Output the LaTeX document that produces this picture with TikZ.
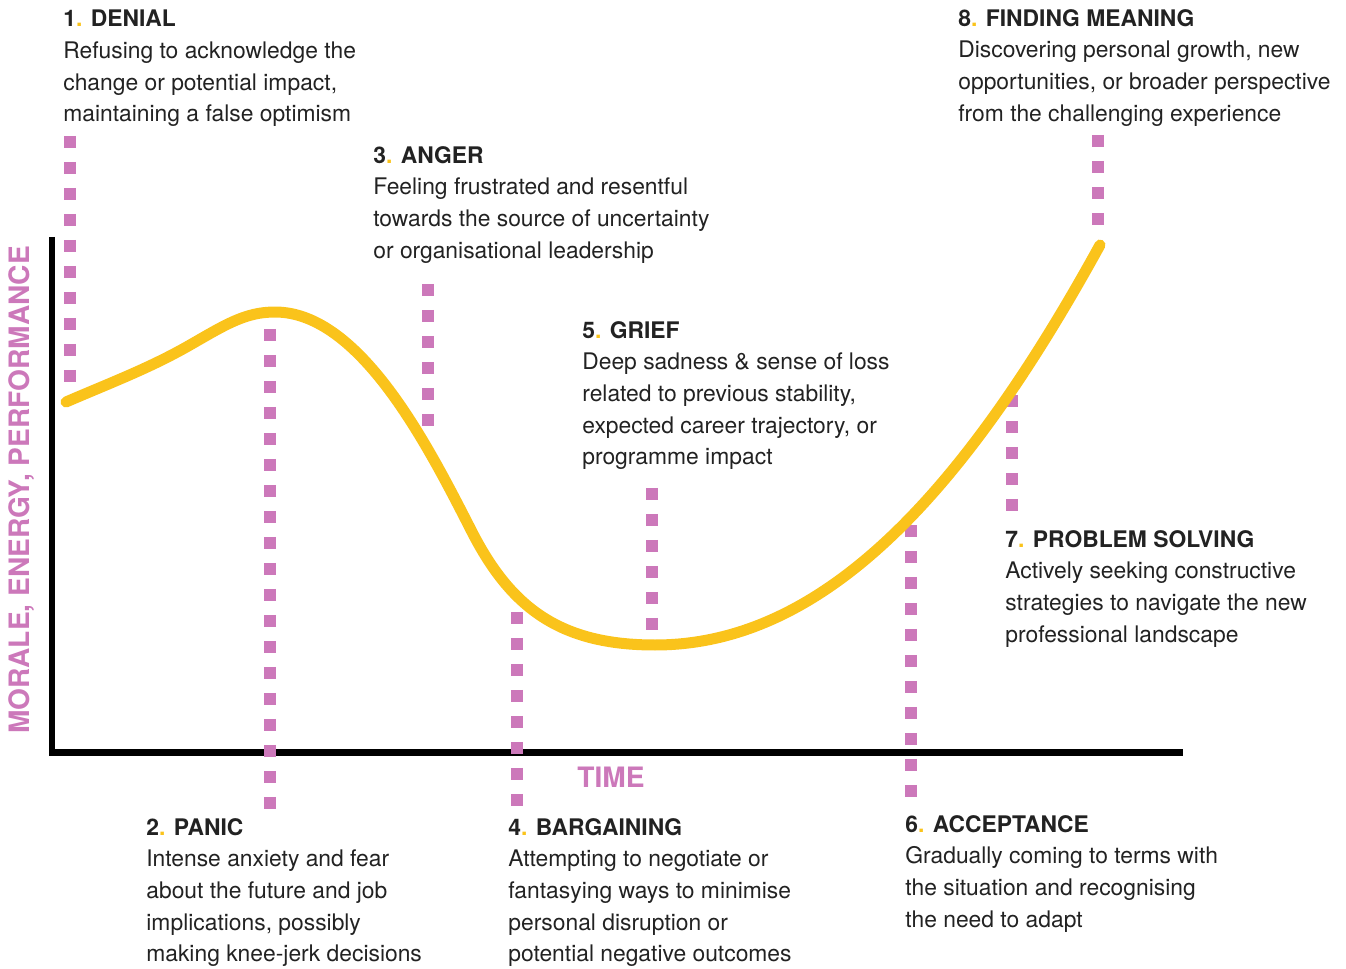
\documentclass[tikz,border=0pt]{standalone}
\usepackage{fontspec}
\setmainfont{TeX Gyre Heros}
\usepackage{tikz}

\definecolor{curveyellow}{HTML}{FAC31B}
\definecolor{markpink}{HTML}{CC78BA}
\definecolor{bodytext}{HTML}{222222}
\newcommand{\yd}{{\color{curveyellow}.}}

\begin{document}
\begin{tikzpicture}[x=0.02cm, y=-0.02cm,
    stage/.style={anchor=north west, inner sep=0pt, align=left, text=bodytext,
      font=\fontsize{13}{18}\selectfont},
    axislabel/.style={text=markpink, inner sep=0pt, font=\bfseries\fontsize{16}{18}\selectfont},
    axis/.style={line width=0.14cm, black},
    marker/.style={line width=0.24cm, markpink, dash pattern=on 0.24cm off 0.28cm},
    curve/.style={line width=0.22cm, curveyellow, line cap=round, line join=round}]

  \useasboundingbox (0,0) rectangle (1346,969);

  % axes
  \coordinate (ytop) at (52,237);
  \coordinate (origin) at (52,752);
  \coordinate (xend) at (1183,752);
  \draw[axis] (ytop) -- (origin) -- (xend);
  \node[axislabel, rotate=90] (ylab) at (22,490) {MORALE, ENERGY, PERFORMANCE};
  \node[axislabel] (xlab) at (611,777) {TIME};

  % markers
  \foreach \i/\x/\y/\n in {1/70/136/10, 2/270/329/19, 3/428/284/6, 4/517/612/8,
      5/652/488/6, 6/911/525/11, 7/1012/395/5, 8/1098/135/4}{
    \coordinate (m\i) at (\x,\y);
    \draw[marker] (m\i) -- ++(0,{\n*26-14});
  }

  % change curve
  \draw[curve] (66,402) .. controls (110,383) and (150,368) .. (190,345)
    .. controls (225,325) and (245,312) .. (275,312)
    .. controls (360,312) and (428,446) .. (470,528)
    .. controls (510,608) and (560,645) .. (655,645)
    .. controls (820,645) and (960,500) .. (1100,245);

  % stages
  \node[stage] (denial) at (63,10) {\textbf{1\yd{} DENIAL}\\
    Refusing to acknowledge the\\change or potential impact,\\maintaining a false optimism};
  \node[stage] (panic) at (146,818) {\textbf{2\yd{} PANIC}\\
    Intense anxiety and fear\\about the future and job\\implications, possibly\\making knee-jerk decisions};
  \node[stage] (anger) at (373,146) {\textbf{3\yd{} ANGER}\\
    Feeling frustrated and resentful\\towards the source of uncertainty\\or organisational leadership};
  \node[stage] (bargain) at (508,818) {\textbf{4\yd{} BARGAINING}\\
    Attempting to negotiate or\\fantasying ways to minimise\\personal disruption or\\potential negative outcomes};
  \node[stage] (grief) at (582,321) {\textbf{5\yd{} GRIEF}\\
    Deep sadness \& sense of loss\\related to previous stability,\\expected career trajectory, or\\programme impact};
  \node[stage] (accept) at (905,815) {\textbf{6\yd{} ACCEPTANCE}\\
    Gradually coming to terms with\\the situation and recognising\\the need to adapt};
  \node[stage] (solving) at (1005,530) {\textbf{7\yd{} PROBLEM SOLVING}\\
    Actively seeking constructive\\strategies to navigate the new\\professional landscape};
  \node[stage] (meaning) at (958,9) {\textbf{8\yd{} FINDING MEANING}\\
    Discovering personal growth, new\\opportunities, or broader perspective\\from the challenging experience};

\end{tikzpicture}
\end{document}
